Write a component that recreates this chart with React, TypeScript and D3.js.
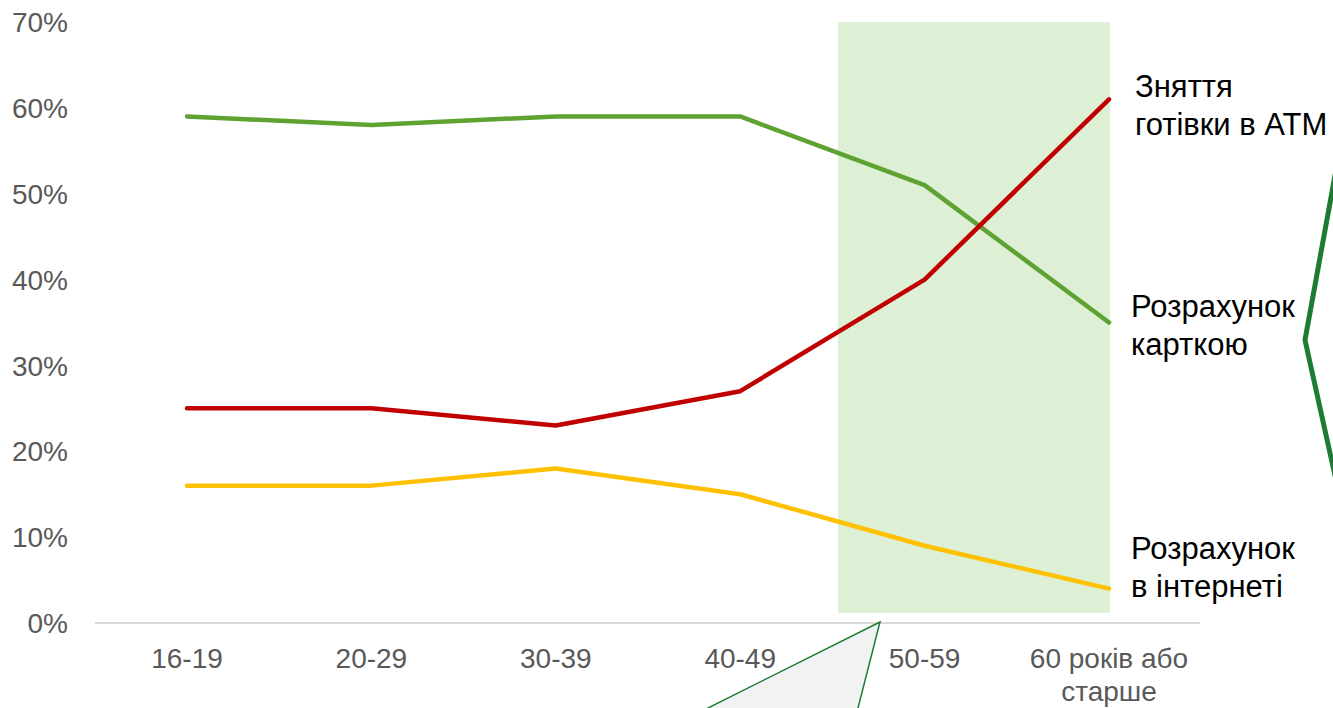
import React from "react";
import * as d3 from "d3";

const categories = ["16-19", "20-29", "30-39", "40-49", "50-59", "60 років або|старше"];
const cardPayment = [59, 58, 59, 59, 51, 35];
const atmWithdrawal = [25, 25, 23, 27, 40, 61];
const internetPayment = [16, 16, 18, 15, 9, 4];
const yTicks = [0, 10, 20, 30, 40, 50, 60, 70];
const seriesNames = ["Зняття|готівки в АТМ", "Розрахунок|карткою", "Розрахунок|в інтернеті"];

const W = 1333;
const H = 708;

export default function App() {
  const x = d3.scalePoint<string>().domain(categories).range([187, 1109]);
  const y = d3.scaleLinear().domain([0, 70]).range([623, 22]);
  const line = d3
    .line<number>()
    .x((_, i) => x(categories[i]) as number)
    .y((d) => y(d));

  const series = [
    { values: cardPayment, color: "#5EA232" },
    { values: atmWithdrawal, color: "#C00000" },
    { values: internetPayment, color: "#FFC000" },
  ];

  const font = "'Liberation Sans', Arial, sans-serif";
  const labelPos = [
    { x: 1135, y: 97 },
    { x: 1131, y: 317 },
    { x: 1131, y: 559 },
  ];

  return (
    <svg
      width={W}
      height={H}
      style={{ position: "absolute", left: 0, top: 0, background: "#fff" }}
      fontFamily={font}
    >
      <rect x={838} y={22} width={1110 - 838} height={613 - 22} fill="#DDEFD5" />
      <line x1={95} x2={1200} y1={y(0)} y2={y(0)} stroke="#D9D9D9" strokeWidth={2} />
      {yTicks.map((t) => (
        <text key={t} x={68} y={y(t)} dy="0.36em" textAnchor="end" fontSize={28} fill="#595959">
          {t}%
        </text>
      ))}
      {categories.map((c) => {
        const parts = c.split("|");
        return (
          <text key={c} x={x(c)} y={668} textAnchor="middle" fontSize={28} fill="#595959">
            {parts.map((p, i) => (
              <tspan key={i} x={x(c)} dy={i === 0 ? 0 : 33}>
                {p}
              </tspan>
            ))}
          </text>
        );
      })}
      {series.map((s, i) => (
        <path
          key={i}
          d={line(s.values) as string}
          fill="none"
          stroke={s.color}
          strokeWidth={4.5}
          strokeLinecap="round"
          strokeLinejoin="round"
        />
      ))}
      {seriesNames.map((n, i) => (
        <text key={n} x={labelPos[i].x} y={labelPos[i].y} fontSize={31} fill="#000">
          {n.split("|").map((p, j) => (
            <tspan key={j} x={labelPos[i].x} dy={j === 0 ? 0 : 38}>
              {p}
            </tspan>
          ))}
        </text>
      ))}
      <polyline
        points="1336,170 1305,340 1336,480"
        fill="none"
        stroke="#1E7B34"
        strokeWidth={5}
      />
      <polygon
        points="880,622 700,712 857,712"
        fill="#F2F2F2"
        stroke="#1E7B34"
        strokeWidth={1.5}
      />
    </svg>
  );
}
